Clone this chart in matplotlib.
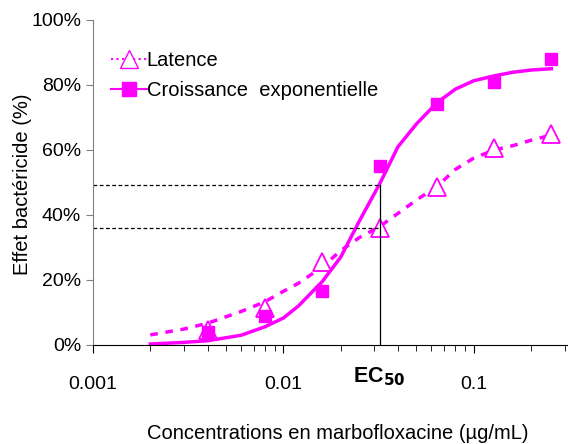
import numpy as np
import matplotlib.pyplot as plt
from matplotlib.lines import Line2D

plt.rcParams['font.family'] = ['Liberation Sans', 'DejaVu Sans']

# measured points
conc = [0.004, 0.008, 0.016, 0.032, 0.064, 0.128, 0.256]
latence = [4.5, 11.5, 25.5, 36.0, 48.5, 60.5, 65.0]
croissance = [4.0, 9.0, 16.5, 55.0, 74.0, 81.0, 88.0]

# fitted curves
fit_x = [0.002, 0.003, 0.004, 0.006, 0.008, 0.01, 0.012, 0.016, 0.02, 0.025,
         0.032, 0.04, 0.05, 0.064, 0.08, 0.1, 0.128, 0.16, 0.2, 0.256]
fit_croissance = [0.3, 0.8, 1.3, 3.0, 5.6, 8.3, 12.0, 19.5, 27.0, 38.0,
                  49.5, 61.0, 68.0, 74.5, 78.7, 81.3, 82.8, 83.9, 84.6, 85.0]
fit_latence = [3.1, 4.9, 6.7, 10.3, 13.3, 16.5, 19.0, 24.0, 29.0, 33.0,
               36.4, 40.5, 44.6, 48.7, 54.0, 57.5, 60.0, 61.3, 63.0, 64.6]

ec50 = 0.032
ec50_croissance = 49.3
ec50_latence = 35.9

color = '#FF00FF'

fig = plt.figure(figsize=(5.68, 4.44), dpi=100)
ax = fig.add_axes([0.1637, 0.223, 0.835, 0.732])

ax.plot(fit_x, fit_latence, color=color, lw=2.5, ls=(0, (2.2, 2.2)))
ax.plot(fit_x, fit_croissance, color=color, lw=2.5)
ax.plot(conc, latence, ls='none', marker='^', ms=13, mfc='white', mec=color, mew=1.3)
ax.plot(conc, croissance, ls='none', marker='s', ms=8.5, color=color)

# EC50 guides
ax.plot([ec50, ec50], [0, ec50_croissance], color='black', lw=0.9)
ax.plot([1e-3, ec50], [ec50_croissance] * 2, color='black', lw=0.9, ls=(0, (3, 2)))
ax.plot([1e-3, ec50], [ec50_latence] * 2, color='black', lw=0.9, ls=(0, (3, 2)))
ax.annotate('EC$_{\\mathbf{50}}$', xy=(ec50, 0), xycoords=('data', 'axes fraction'),
            xytext=(0, -15), textcoords='offset points', ha='center', va='top',
            fontsize=15.5, fontweight='bold')

ax.set_xscale('log')
ax.set_xlim(1e-3, 0.31)
ax.set_ylim(0, 100)
ax.set_yticks([0, 20, 40, 60, 80, 100])
ax.set_yticklabels([f'{v}%' for v in range(0, 101, 20)])
ax.set_xticks([0.001, 0.01, 0.1])
ax.set_xticklabels(['0.001', '0.01', '0.1'])

for s in ['top', 'right']:
    ax.spines[s].set_visible(False)
ax.spines['left'].set_color('#808080')
ax.spines['bottom'].set_color('black')
ax.tick_params(axis='y', direction='out', length=5, color='#808080', labelsize=14)
ax.tick_params(axis='x', which='major', direction='out', length=6, pad=16, labelsize=14)
ax.tick_params(axis='x', which='minor', direction='out', length=4)

fig.text(23 / 568, 1 - 184 / 444, 'Effet bactéricide (%)', rotation=90,
         ha='center', va='center', fontsize=14.5)
fig.text(338 / 568, 1 - 433 / 444, 'Concentrations en marbofloxacine (µg/mL)',
         ha='center', va='center', fontsize=14.5)

handles = [
    Line2D([], [], color=color, lw=1.5, ls=':', marker='^', ms=13, mfc='white', mec=color),
    Line2D([], [], color=color, lw=1.5, marker='s', ms=10, mfc=color, mec=color),
]
ax.legend(handles, ['Latence', 'Croissance  exponentielle'], loc='upper left',
          bbox_to_anchor=(0.02, 0.93), frameon=False, fontsize=14.5,
          handlelength=1.8, handletextpad=0.0, labelspacing=0.55, borderaxespad=0)

fig.savefig('out.png', dpi=100)
